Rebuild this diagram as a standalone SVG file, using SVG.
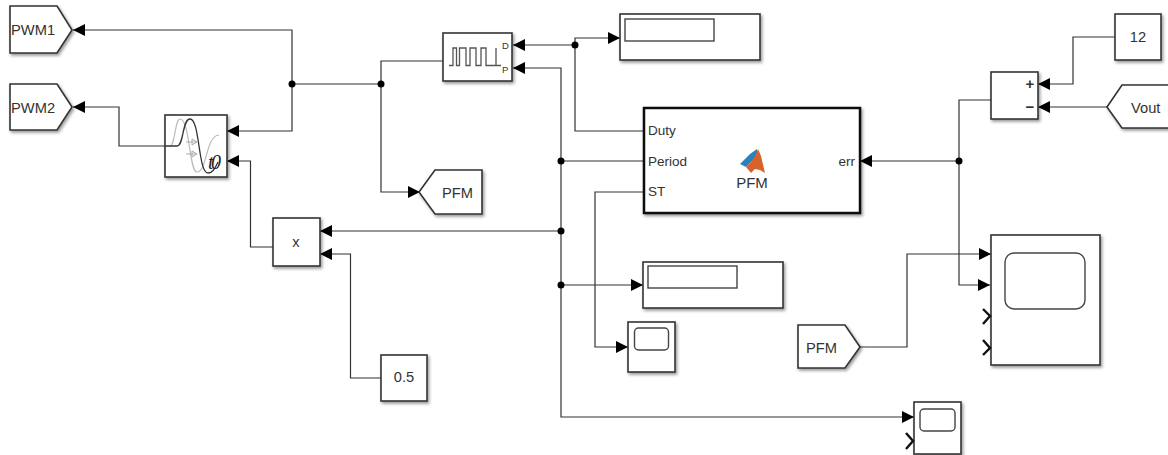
<svg xmlns="http://www.w3.org/2000/svg" width="1168" height="455" viewBox="0 0 1168 455">
<style>
text{font-family:"Liberation Sans",Arial,sans-serif;fill:#333;font-size:14.7px}
.b{fill:#fff;stroke:#333;stroke-width:1.6}
.s{filter:url(#sh)}
.i{fill:#fff;stroke:#444;stroke-width:1.4}
.w{fill:none;stroke:#333;stroke-width:1.2}
.c{fill:none;stroke:#111;stroke-width:2.4}
.m{text-anchor:middle}
.j{fill:#000;stroke:none}
.p{font-size:13.5px}
</style>
<defs>
<filter id="sh" x="-15%" y="-15%" width="135%" height="135%"><feDropShadow dx="1.5" dy="2" stdDeviation="1.5" flood-color="#000" flood-opacity="0.4"/></filter>
<marker id="a" markerUnits="userSpaceOnUse" markerWidth="14" markerHeight="14" refX="12" refY="6.5" orient="auto"><path d="M0 0.5L12 6.5L0 12.5Z" fill="#000"/></marker>
</defs>
<rect width="1168" height="455" fill="#fff"/>

<g id="connectors" class="conn">
<polyline class="w" marker-end="url(#a)" points="292,84 292,30 73,30"/>
<polyline class="w" marker-end="url(#a)" points="292,84 292,131 227,131"/>
<polyline class="w" points="292,84 381,84"/>
<polyline class="w" points="381,84 381,61 443,61"/>
<polyline class="w" marker-end="url(#a)" points="381,84 381,192 420,192"/>
<polyline class="w" marker-end="url(#a)" points="165,146 119,146 119,107 73,107"/>
<polyline class="w" marker-end="url(#a)" points="273,247 250.500,247 250.500,161 227,161"/>
<polyline class="w" marker-end="url(#a)" points="561,231 320,231"/>
<polyline class="w" marker-end="url(#a)" points="381,378 350.500,378 350.500,254 320,254"/>
<polyline class="w" marker-end="url(#a)" points="561,161 561,68 513,68"/>
<polyline class="w" marker-end="url(#a)" points="561,161 561,417 914,417"/>
<polyline class="w" points="561,161 644,161"/>
<polyline class="w" marker-end="url(#a)" points="561,285 643,285"/>
<polyline class="w" marker-end="url(#a)" points="575,45 513,45"/>
<polyline class="w" marker-end="url(#a)" points="575,45 575,38 620,38"/>
<polyline class="w" points="575,45 575,131 644,131"/>
<polyline class="w" marker-end="url(#a)" points="644,192 595,192 595,347 628,347"/>
<polyline class="w" marker-end="url(#a)" points="959,161 860,161"/>
<polyline class="w" points="959,161 959,100 991,100"/>
<polyline class="w" marker-end="url(#a)" points="959,161 959,285 990,285"/>
<polyline class="w" marker-end="url(#a)" points="1115,37 1073,37 1073,84 1038,84"/>
<polyline class="w" marker-end="url(#a)" points="1107,107 1038,107"/>
<polyline class="w" marker-end="url(#a)" points="860,347 907,347 907,254 991,254"/>
<circle class="j" cx="292" cy="84" r="3.500"/>
<circle class="j" cx="381" cy="84" r="3.500"/>
<circle class="j" cx="575" cy="45" r="3.500"/>
<circle class="j" cx="561" cy="161" r="3.500"/>
<circle class="j" cx="561" cy="231" r="3.500"/>
<circle class="j" cx="561" cy="285" r="3.500"/>
<circle class="j" cx="959" cy="161" r="3.500"/>
</g>

<g id="pwm1"><polygon class="b s" points="10,6 57,6 72,30 57,53 10,53"/><text x="11" y="35">PWM1</text></g>
<g id="pwm2"><polygon class="b s" points="10,84 57,84 72,107 57,130 10,130"/><text x="11" y="112.500">PWM2</text></g>

<g id="delay">
<rect class="b s" x="165" y="115" width="62" height="62"/>
<path d="M170 146C175 146 175 119 180 119C190 119 189 172 197 172C207 172 206 135 219 135" fill="none" stroke="#bbb" stroke-width="1.200"/>
<path d="M186 142H196M192 139L197 142L192 145ZM186 154H196M192 151L197 154L192 157Z" fill="#fff" stroke="#aaa" stroke-width="1"/>
<path d="M165 146H177C184 146 182 119 190 119C200 119 198 173 208 173C213 173 215 168 218 162" fill="none" stroke="#333" stroke-width="1.300"/>
<text x="208" y="169" letter-spacing="-2.500" style="font-family:'Liberation Serif',serif;font-style:italic;font-size:20px;fill:#222">t0</text>
</g>

<g id="product"><rect class="b s" x="273" y="218" width="47" height="48"/><text class="m" x="296" y="247">x</text></g>
<g id="const05"><rect class="b s" x="381" y="355" width="46" height="46"/><text class="m" x="404" y="381.500">0.5</text></g>
<g id="pfm-goto"><polygon class="b s" points="419,192 435,170 482,170 482,214 435,214"/><text x="442" y="198">PFM</text></g>

<g id="pulse">
<rect class="b s" x="443" y="33" width="69" height="48"/>
<path d="M449 65.500H453V48H456.500V65.500H459.500V48H466V65.500H470V48H476V65.500H481V48H486V65.500H496V48M496 65.500H501" fill="none" stroke="#555" stroke-width="1.300"/>
<text x="502" y="49" style="font-size:9.500px">D</text>
<text x="502" y="72.500" style="font-size:9.500px">P</text>
</g>

<g id="display1"><rect class="b s" x="620" y="14" width="140" height="46"/><rect class="i" x="625" y="19" width="89" height="22"/></g>
<g id="display2"><rect class="b s" x="643" y="262" width="140" height="46"/><rect class="i" x="648" y="266" width="89" height="22"/></g>

<g id="pfm-block">
<rect x="644" y="108" width="216" height="105" fill="#fff" stroke="#111" stroke-width="2.500" class="s"/>
<text class="p" x="648" y="135">Duty</text>
<text class="p" x="648" y="166">Period</text>
<text class="p" x="648" y="196">ST</text>
<text class="p" x="855" y="166" text-anchor="end">err</text>
<polygon points="740,164 750,154 757,149 757,156 751,162 746,167" fill="#2a83b8"/>
<polygon points="758,149 761,156 765,173 760,170 755,169 751,173 746,167 751,162 755,156" fill="#d9622b"/>
<text class="m" x="752" y="188" style="font-size:15px">PFM</text>
</g>

<g id="scope-st"><rect class="b s" x="628" y="322" width="47" height="50"/><rect class="i" x="634.500" y="328" width="34" height="22" rx="4"/></g>

<g id="sum"><rect class="b s" x="991" y="72" width="47" height="47"/><text class="m" x="1030" y="89" style="font-size:15px;font-weight:bold">+</text><text class="m" x="1030" y="112" style="font-size:15px;font-weight:bold">−</text></g>
<g id="const12"><rect class="b s" x="1115" y="14" width="46" height="46"/><text class="m" x="1138" y="42">12</text></g>
<g id="vout"><polygon class="b s" points="1107,107 1122,85 1172,85 1172,128 1122,128"/><text x="1131" y="113">Vout</text></g>

<g id="scope-main">
<rect class="b s" x="991" y="235" width="109" height="130"/>
<rect class="i" x="1005" y="253" width="80" height="56" rx="9"/>
<path class="c" d="M983 309L990 316L983 324M983 340L990 348L983 355"/>
</g>
<g id="pfm-from"><polygon class="b s" points="798,325 845,325 860,347 845,368 798,368"/><text x="806" y="353">PFM</text></g>
<g id="scope-bottom">
<rect class="b s" x="914" y="402" width="47" height="52"/>
<rect class="i" x="920" y="409" width="35" height="22" rx="4"/>
<path class="c" d="M906 433L913 441L906 449"/>
</g>
</svg>
